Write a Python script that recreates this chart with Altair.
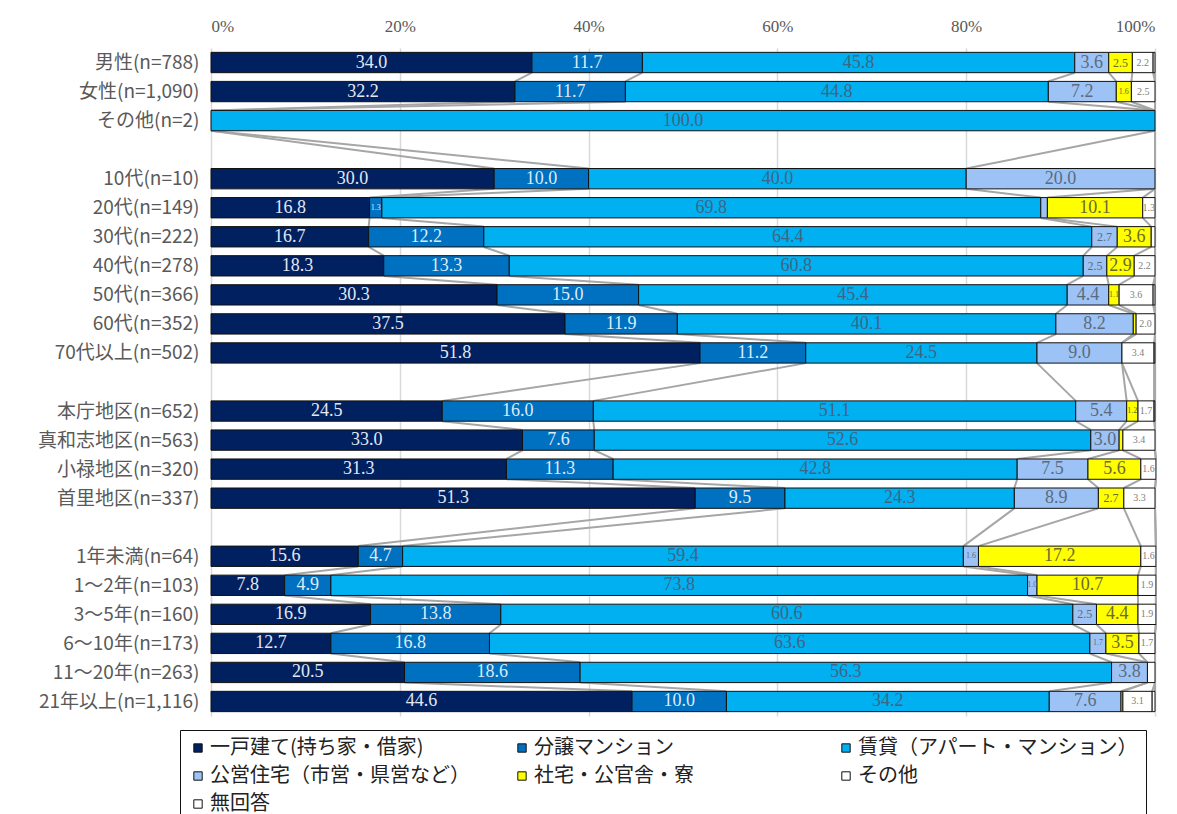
import altair as alt
import pandas as pd

# ---- data ----
row_labels = ["男性(n=788)", "女性(n=1,090)", "その他(n=2)", "",
              "10代(n=10)", "20代(n=149)", "30代(n=222)", "40代(n=278)",
              "50代(n=366)", "60代(n=352)", "70代以上(n=502)", "",
              "本庁地区(n=652)", "真和志地区(n=563)", "小禄地区(n=320)", "首里地区(n=337)", "",
              "1年未満(n=64)", "1～2年(n=103)", "3～5年(n=160)", "6～10年(n=173)",
              "11～20年(n=263)", "21年以上(n=1,116)"]

series = ["一戸建て(持ち家・借家)", "分譲マンション", "賃貸（アパート・マンション）",
          "公営住宅（市営・県営など）", "社宅・公官舎・寮", "その他", "無回答"]

v_house   = [34.0, 32.2, 0, 30.0, 16.8, 16.7, 18.3, 30.3, 37.5, 51.8, 24.5, 33.0, 31.3, 51.3, 15.6, 7.8, 16.9, 12.7, 20.5, 44.6]
v_condo   = [11.7, 11.7, 0, 10.0, 1.3, 12.2, 13.3, 15.0, 11.9, 11.2, 16.0, 7.6, 11.3, 9.5, 4.7, 4.9, 13.8, 16.8, 18.6, 10.0]
v_rent    = [45.8, 44.8, 100.0, 40.0, 69.8, 64.4, 60.8, 45.4, 40.1, 24.5, 51.1, 52.6, 42.8, 24.3, 59.4, 73.8, 60.6, 63.6, 56.3, 34.2]
v_public  = [3.6, 7.2, 0, 20.0, 0.7, 2.7, 2.5, 4.4, 8.2, 9.0, 5.4, 3.0, 7.5, 8.9, 1.6, 1.0, 2.5, 1.7, 3.8, 7.6]
v_company = [2.5, 1.6, 0, 0, 10.1, 3.6, 2.9, 1.1, 0.3, 0, 1.2, 0.4, 5.6, 2.7, 17.2, 10.7, 4.4, 3.5, 0, 0.2]
v_other   = [2.2, 2.5, 0, 0, 1.3, 0.4, 2.2, 3.6, 2.0, 3.4, 1.7, 3.4, 1.6, 3.3, 1.6, 1.9, 1.9, 1.7, 0.8, 3.1]
v_noans   = [0.2, 0, 0, 0, 0, 0, 0, 0.2, 0, 0.1, 0.1, 0, 0, 0, 0, 0, 0, 0, 0, 0.3]

colors = ["#002060", "#0070C0", "#00B0F0", "#9DC3F6", "#FFFF00", "#FFFFFF", "#FFFFFF"]
text_colors = ["#E3E8F2", "#DDEBF7", "#3F6585", "#5B6B7C", "#6B6B30", "#808080", "#808080"]

values = [v_house, v_condo, v_rent, v_public, v_company, v_other, v_noans]

# ---- build tables ----
positions = [i for i, r in enumerate(row_labels) if r != ""]
half = 0.35

seg_rows = []
cums = []
for ri, pos in enumerate(positions):
    start = 0.0
    cum_row = []
    for si, s in enumerate(series):
        v = values[si][ri]
        end = start + v
        cum_row.append(end)
        if v > 0:
            if si == 5:
                fs = 10
            elif v >= 2.8:
                fs = 18
            elif v >= 2.0:
                fs = 12
            else:
                fs = 8
            seg_rows.append(dict(pos=pos, y0=pos - half, y1=pos + half, series=s,
                                 order=si, start=start, end=end, mid=(start + end) / 2,
                                 value=v, label=f"{v:.1f}" if v >= 1.0 else "",
                                 fs=fs, tc=text_colors[si]))
        start = end
    cums.append(cum_row)

segs = pd.DataFrame(seg_rows)

line_rows = []
for k in range(len(positions) - 1):
    p1, p2 = positions[k], positions[k + 1]
    for si in range(len(series)):
        line_rows.append(dict(xa=cums[k][si], xb=cums[k + 1][si],
                              ya=p1 + half, yb=p2 - half, s=si))
lines = pd.DataFrame(line_rows)

label_array = "[" + ",".join("'" + r + "'" for r in row_labels) + "]"

yscale = alt.Scale(domain=[-0.5, len(row_labels) - 0.5], reverse=True, nice=False, zero=False)
xscale = alt.Scale(domain=[0, 100], nice=False)

x_axis = alt.Axis(orient="top", values=[0, 20, 40, 60, 80, 100],
                  labelExpr="datum.value + '%'", title=None, grid=True,
                  gridColor="#D9D9D9", gridWidth=1.5, domain=False, ticks=False,
                  labelFont="Liberation Serif", labelFontSize=17, labelColor="#595959",
                  labelPadding=13)
y_axis = alt.Axis(values=positions, labelExpr=label_array + "[datum.value]",
                  title=None, grid=False, domain=False, ticks=False,
                  labelOverlap=False, labelBound=False,
                  labelFont="Noto Sans CJK JP", labelFontSize=19, labelColor="#595959",
                  labelPadding=12)

base_lines = alt.Chart(lines).mark_rule(color="#A6A6A6", strokeWidth=2).encode(
    x=alt.X("xa:Q", scale=xscale, axis=x_axis),
    x2="xb:Q",
    y=alt.Y("ya:Q", scale=yscale, axis=y_axis),
    y2="yb:Q",
)

bars = alt.Chart(segs).mark_rect(stroke="#111111", strokeWidth=1).encode(
    x=alt.X("start:Q", scale=xscale, axis=x_axis),
    x2="end:Q",
    y=alt.Y("y0:Q", scale=yscale, axis=y_axis),
    y2="y1:Q",
    color=alt.Color("series:N", scale=alt.Scale(domain=series, range=colors),
                    legend=alt.Legend(title=None, orient="none", legendX=-31, legendY=682,
                                      direction="horizontal", columns=3, gridAlign="all",
                                      symbolType="square", symbolSize=70,
                                      symbolStrokeColor="#111111", symbolStrokeWidth=1,
                                      labelFont="Noto Sans CJK JP", labelFontSize=20,
                                      labelColor="#222222", labelLimit=400,
                                      columnPadding=22, rowPadding=8, padding=8,
                                      strokeColor="#111111", fillColor="white",
                                      symbolOffset=0, labelOffset=2)),
    order=alt.Order("order:Q"),
)

texts = alt.Chart(segs).mark_text(font="Liberation Serif", baseline="middle", align="center").encode(
    x=alt.X("mid:Q", scale=xscale, axis=x_axis),
    y=alt.Y("pos:Q", scale=yscale, axis=y_axis),
    text="label:N",
    size=alt.Size("fs:Q", scale=None, legend=None),
    color=alt.Color("tc:N", scale=None, legend=None),
)

chart = alt.layer(base_lines, bars, texts).properties(
    width=944, height=668,
    autosize=alt.AutoSizeParams(type="none"),
    padding={"left": 203, "top": 40, "right": 14, "bottom": 120},
).configure_view(stroke=None).configure_axisY(labelOverlap=False).resolve_scale(color="independent")

chart.save("out.html", embed_options={"renderer": "svg", "actions": False})
